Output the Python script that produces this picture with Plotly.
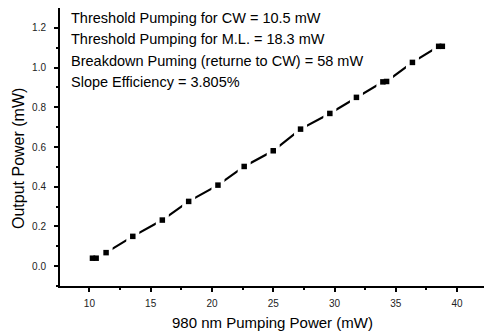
import plotly.graph_objects as go

pump_mw = [10.25, 10.55, 11.36, 13.54, 15.95, 18.1, 20.49, 22.63, 25.0, 27.23, 29.62, 31.79, 33.95, 34.25, 36.36, 38.5, 38.8]
output_mw = [0.04, 0.04, 0.068, 0.15, 0.232, 0.326, 0.408, 0.502, 0.581, 0.69, 0.769, 0.85, 0.928, 0.93, 1.026, 1.107, 1.107]

notes = [
    "Threshold Pumping for CW = 10.5 mW",
    "Threshold Pumping for M.L. = 18.3 mW",
    "Breakdown Puming (returne to CW) = 58 mW",
    "Slope Efficiency = 3.805%",
]
x_title = "980 nm Pumping Power (mW)"
y_title = "Output Power (mW)"

FONT = "Liberation Sans, Arial, sans-serif"

# plot area in pixels: x 60..484, y 8..286
L, R, T, B = 60, 484, 8, 286
W, H = R - L, B - T

def px(x):
    return (x - L) / W

def py(y):
    return (B - y) / H

fig = go.Figure()
fig.add_trace(go.Scatter(
    x=pump_mw, y=output_mw, mode="lines+markers",
    line=dict(color="black", width=2.2),
    marker=dict(symbol="square", size=9, color="white", line=dict(color="white", width=4)),
    hoverinfo="skip", showlegend=False,
))
fig.add_trace(go.Scatter(
    x=pump_mw, y=output_mw, mode="markers",
    marker=dict(symbol="square", size=5.5, color="black", line=dict(width=0)),
    showlegend=False,
))

for i, t in enumerate(notes):
    fig.add_annotation(
        text=t, xref="paper", yref="paper", x=px(69), y=py(18.5 + 21 * i),
        xanchor="left", yanchor="middle", showarrow=False,
        font=dict(family=FONT, size=14.5, color="black"),
    )

fig.add_annotation(
    text=x_title, xref="paper", yref="paper", x=px(272), y=py(322),
    xanchor="center", yanchor="middle", showarrow=False,
    font=dict(family=FONT, size=15, color="black"),
)
fig.add_annotation(
    text=y_title, xref="paper", yref="paper", x=px(18), y=py(159),
    xanchor="center", yanchor="middle", showarrow=False, textangle=-90,
    font=dict(family=FONT, size=16, color="black"),
)

fig.update_layout(
    width=484, height=335,
    margin=dict(l=L, r=484 - R, t=T, b=335 - B),
    paper_bgcolor="white", plot_bgcolor="white",
    font=dict(family=FONT, color="black"),
    xaxis=dict(
        range=[7.6, 42.2], tickvals=[10, 15, 20, 25, 30, 35, 40], automargin=False,
        showgrid=False, zeroline=False, showline=True, linecolor="black", linewidth=2,
        ticks="outside", ticklen=4, tickwidth=2, tickcolor="black",
        tickfont=dict(size=10, color="#222"), ticklabelstandoff=3,
        minor=dict(ticks="outside", ticklen=2, tickwidth=2, tickcolor="black", tickvals=[12.5, 17.5, 22.5, 27.5, 32.5, 37.5]),
    ),
    yaxis=dict(
        range=[-0.1, 1.3], tickvals=[0.0, 0.2, 0.4, 0.6, 0.8, 1.0, 1.2], automargin=False,
        ticktext=["0.0", "0.2", "0.4", "0.6", "0.8", "1.0", "1.2"],
        showgrid=False, zeroline=False, showline=True, linecolor="black", linewidth=2,
        ticks="outside", ticklen=4, tickwidth=2, tickcolor="black",
        tickfont=dict(size=10, color="#222"), ticklabelstandoff=6,
        minor=dict(ticks="outside", ticklen=2, tickwidth=2, tickcolor="black", tickvals=[-0.1, 0.1, 0.3, 0.5, 0.7, 0.9, 1.1]),
    ),
)

fig.write_html(
    "out.html",
    config={"displayModeBar": False},
    post_script="document.body.style.margin='0';document.body.style.overflow='hidden';",
)
